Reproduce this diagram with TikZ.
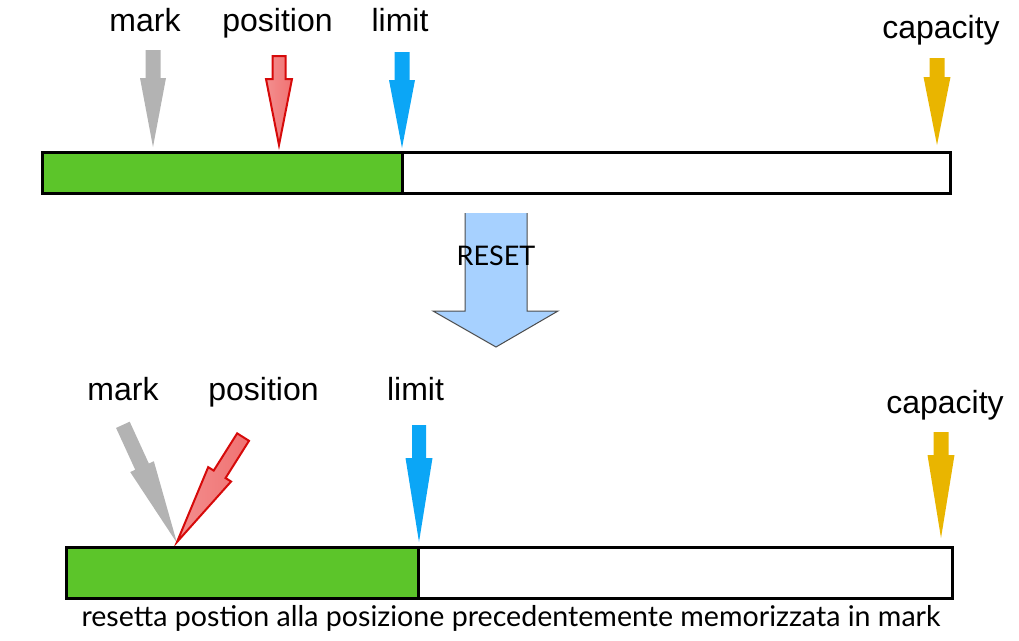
\documentclass[tikz,border=0pt]{standalone}
\usepackage{fontspec}
\setmainfont{Liberation Sans}
\newfontfamily\capfont{Lato}
\usetikzlibrary{calc}
\definecolor{bargreen}{HTML}{5CC52A}
\definecolor{mgray}{HTML}{B3B3B3}
\definecolor{lblue}{HTML}{0BA6F6}
\definecolor{cyellow}{HTML}{E9B500}
\definecolor{pred}{HTML}{D60A0A}
\definecolor{pfill}{HTML}{F07272}
\definecolor{rfill}{HTML}{A7D1FF}
\tikzset{
  lbl/.style={anchor=base, font=\fontsize{32}{34}\selectfont, inner sep=0pt},
  capt/.style={anchor=base, font=\capfont\fontsize{27}{29}\selectfont, inner sep=0pt},
  bigcapt/.style={capt, font=\capfont\fontsize{28.6}{30}\selectfont},
  bar/.style={draw=black, line width=3pt},
}
% \fatptr{options}{shaft half width}{head half width}{head length}{total length}
\newcommand{\fatptr}[5]{%
  \path[#1] (0,0) -- (-#3,-#4) -- (-#2,-#4) -- (-#2,-#5) -- (#2,-#5) -- (#2,-#4) -- (#3,-#4) -- cycle;}
\begin{document}
\begin{tikzpicture}[x=1pt,y=-1pt]
\useasboundingbox (0,0) rectangle (1019,640);
% ---------- top buffer ----------
\node[lbl] (tmark) at (145,31) {mark};
\node[lbl] (tpos) at (277.5,31) {position};
\node[lbl] (tlim) at (400,31) {limit};
\node[lbl] (tcap) at (941,38) {capacity};
\begin{scope}[shift={(153,147)}]\fatptr{fill=mgray}{7.5}{13}{69}{97}\end{scope}
\begin{scope}[shift={(279,145)}]\fatptr{left color=pfill!80!white,right color=pfill,draw=pred,line width=2pt,line join=miter}{6.5}{13}{66}{89}\end{scope}
\begin{scope}[shift={(402,148)}]\fatptr{fill=lblue}{7.5}{13}{68}{96}\end{scope}
\begin{scope}[shift={(937,145)}]\fatptr{fill=cyellow}{7.5}{13.5}{68}{87}\end{scope}
\fill[white] (42,152) rectangle (950,193);
\fill[bargreen] (42,152) rectangle (402,193);
\draw[bar] (42,152) rectangle (950,193);
\draw[bar] (402,152) -- (402,193);
% ---------- reset arrow ----------
\fill[rfill] (465,213) -- (465,311) -- (433,311) -- (496,347) -- (558,311) -- (527,311) -- (527,213) -- cycle;
\draw[black!70, line width=1pt] (465,213) -- (465,311) -- (433,311) -- (496,347) -- (558,311) -- (527,311) -- (527,213);
\node[capt] (reset) at (496,265) {RESET};
% ---------- bottom buffer ----------
\node[lbl] (bmark) at (123,400) {mark};
\node[lbl] (bpos) at (263.5,400) {position};
\node[lbl] (blim) at (415.5,400) {limit};
\node[lbl] (bcap) at (945,413) {capacity};
\begin{scope}[shift={(177,543)},rotate=24.6]\fatptr{fill=mgray}{7.5}{13}{84}{130}\end{scope}
\begin{scope}[shift={(177,542)},rotate=-32.2]\fatptr{left color=pfill!80!white,right color=pfill,draw=pred,line width=2pt,line join=miter}{7}{13.5}{80}{124}\end{scope}
\begin{scope}[shift={(419,542)}]\fatptr{fill=lblue}{7}{13.5}{84}{117}\end{scope}
\begin{scope}[shift={(941,538)}]\fatptr{fill=cyellow}{7.5}{13.5}{83}{106}\end{scope}
\fill[white] (66,547) rectangle (952,598);
\fill[bargreen] (66,547) rectangle (418,598);
\draw[bar] (66,547) rectangle (952,598);
\draw[bar] (418,547) -- (418,598);
\node[bigcapt] (caption) at (511,626) {resetta postion alla posizione precedentemente memorizzata in mark};
\end{tikzpicture}
\end{document}
